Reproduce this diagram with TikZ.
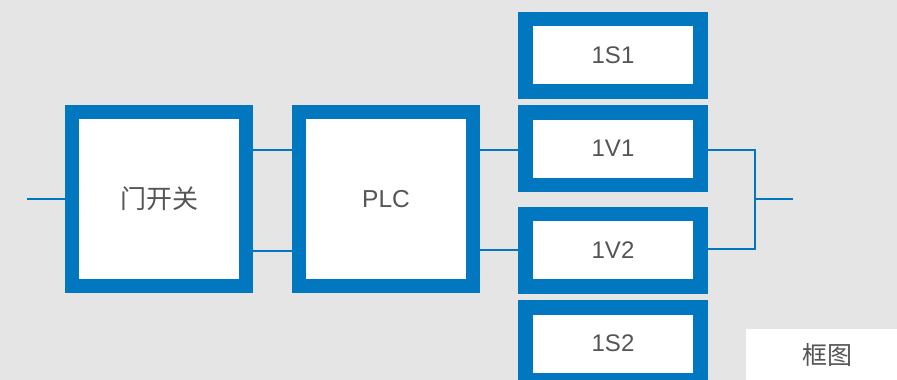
\documentclass[tikz,border=0pt]{standalone}
\usepackage{fontspec}
\setmainfont{Liberation Sans}
\newfontfamily\cjk{Noto Sans CJK SC}
\definecolor{bgc}{RGB}{229,229,229}
\definecolor{bluec}{RGB}{0,119,190}
\definecolor{txtc}{RGB}{85,85,85}
\begin{document}
\begin{tikzpicture}[x=1pt,y=-1pt,
  bigbox/.style={draw=bluec,line width=14pt,fill=white,inner sep=0pt,outer sep=0pt,
    minimum width=174pt,minimum height=174pt,text=txtc,font=\fontsize{24.5}{28}\selectfont},
  smallbox/.style={draw=bluec,line width=14.5pt,fill=white,inner sep=0pt,outer sep=0pt,
    minimum width=175pt,minimum height=72.5pt,text=txtc,font=\fontsize{24}{28}\selectfont},
  wire/.style={draw=bluec,line width=2pt}]
\fill[bgc] (0,0) rectangle (897,380);
\useasboundingbox (0,0) rectangle (897,380);
\coordinate (inL) at (27,199.3);
\coordinate (junc) at (755,199.3);
\coordinate (outR) at (793,199.3);
\node[bigbox] (b1) at (159,199) {\cjk\fontsize{26}{30}\selectfont 门开关};
\node[bigbox] (plc) at (386,199) {PLC};
\node[smallbox] (s1) at (613,55.2) {1S1};
\node[smallbox] (v1) at (613,148.5) {1V1};
\node[smallbox] (v2) at (613,250) {1V2};
\node[smallbox] (s2) at (613,343.5) {1S2};
\draw[wire] (inL) -- (b1.west |- inL);
\draw[wire] ([yshift=49pt]b1.east) -- ([yshift=49pt]plc.west);
\draw[wire] ([yshift=-51.7pt]b1.east) -- ([yshift=-51.7pt]plc.west);
\draw[wire] ([yshift=49pt]plc.east) -- (v1.west |- 0,150);
\draw[wire] ([yshift=-51pt]plc.east) -- (v2.west |- 0,250);
\draw[wire] (v1.east |- 0,150) -| (junc) |- (v2.east |- 0,249.3);
\draw[wire] (junc) -- (outR);
\foreach \n in {b1,plc,s1,v1,v2,s2}{\draw[bluec,line width=14pt] (\n.north west) rectangle (\n.south east);}
\fill[white] (746,329) rectangle (897,380);
\node[text=txtc,font=\cjk\fontsize{25}{29}\selectfont] (lbl) at (827,355) {框图};
\end{tikzpicture}
\end{document}
